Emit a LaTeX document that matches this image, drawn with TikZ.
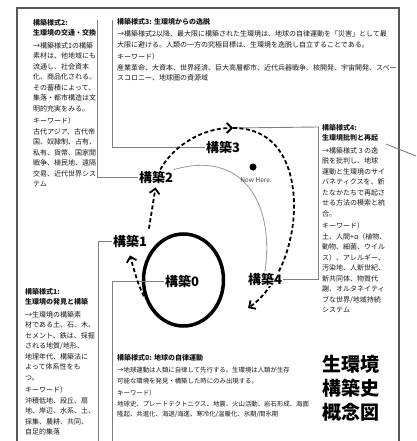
\documentclass[tikz,border=0pt]{standalone}
\usepackage{fontspec}
\setmainfont{Noto Sans CJK JP}
\usetikzlibrary{arrows.meta,shapes.geometric}
\begin{document}
\begin{tikzpicture}[x=1pt,y=-1pt,
  txt/.style={anchor=north west, inner sep=0pt, align=left, font=\fontsize{7}{10.5}\selectfont, text=black!90},
  lbl/.style={font=\fontsize{13}{13}\selectfont\bfseries, fill=white, inner sep=1pt},
  conn/.style={draw=black!50, line width=0.9pt},
  darr/.style={line width=1.8pt, dash pattern=on 4pt off 2.5pt, -{Straight Barb[length=5pt,width=10pt]}},
  titlef/.style={font=\fontsize{19}{24}\selectfont\bfseries, align=center, inner sep=0pt}
]
\useasboundingbox (0,0) rectangle (416,441);
\fill[white] (0,0) rectangle (416,441);
% frame
\draw[black!65, line width=2pt] (17,446) -- (17,8) -- (399,8) -- (399,446);

% text blocks
\node[txt] (box2) at (33,19) {{\bfseries 構築様式2:}\\{\bfseries 生環境の交通・交換}\\[2pt]
→構築様式1の構築\\素材は、他地域にも\\流通し、社会資本\\化、商品化される。\\その蓄積によって、\\集落・都市構造は文\\明的充実をみる。\\[2pt]
キーワード）\\古代アジア、古代帝\\国、奴隷制、占有、\\私有、貨幣、国家間\\戦争、植民地、遠隔\\交易、近代世界シス\\テム};

\node[txt] (box3) at (117,18) {{\bfseries 構築様式3: 生環境からの逸脱}\\[2pt]
→構築様式2以降、最大限に構築された生環境は、地球の自律運動を「災害」として最\\大限に避ける。人類の一方の究極目標は、生環境を逸脱し自立することである。\\[2pt]
キーワード）\\産業革命、大資本、世界経済、巨大高層都市、近代兵器戦争、核開発、宇宙開発、スペー\\スコロニー、地球圏の資源域};

\node[txt] (box4) at (322,124) {{\bfseries 構築様式4:}\\{\bfseries 生環境批判と再起}\\[2pt]
→構築様式 3 の逸\\脱を批判し、地球\\運動と生環境のサイ\\バネティクスを、新\\たなかたちで再起さ\\せる方法の模索と統\\合。\\[2pt]
キーワード）\\土、人間+α（植物、\\動物、細菌、ウイル\\ス）、アレルギー、\\汚染地、人新世紀、\\新共同体、物質代\\謝、オルタネイティ\\ブな世界/地域持続\\システム};

\node[txt] (box1) at (25,288) {{\bfseries 構築様式1:}\\{\bfseries 生環境の発見と構築}\\[2pt]
→生環境の構築素\\材である土、石、木、\\セメント、鉄は、採掘\\される地質/地形、\\地理年代、構築法に\\よって体系性をも\\つ。\\[2pt]
キーワード）\\沖積低地、段丘、扇\\地、岸辺、水系、土、\\採集、農耕、共同、\\自足的集落};

\node[txt, font=\fontsize{6.4}{10.5}\selectfont] (box0) at (117,354) {{\fontsize{7}{10.5}\selectfont\bfseries 構築様式0: 地球の自律運動}\\[2pt]
→地球運動は人類に自律して先行する。生環境は人類が生存\\可能な環境を発見・構築した時にのみ出現する。\\[2pt]
キーワード）\\地球史、プレートテクトニクス、地震、火山活動、岩石形成、海面\\隆起、共進化、海退/海進、寒冷化/温暖化、氷期/間氷期};

\node[titlef] (title) at (351,388) {生環境\\構築史\\概念図};

% circle
\node[ellipse, draw, line width=3.5pt, minimum width=80pt, minimum height=92pt, inner sep=0pt] (c0) at (183.5,280) {};

% connector brackets
\coordinate (b2top) at (97,20);
\coordinate (b3top) at (112,20);
\coordinate (b1bot) at (98,446);
\coordinate (b0bot) at (112,446);
\coordinate (b4top) at (318,127);
\coordinate (t3) at (233,128);
\coordinate (t4) at (248,308);
\coordinate (o1) at (386,144);
\coordinate (o2) at (416,156);

% labels
\node[lbl] (k0) at (182,281) {構築0};
\node[lbl] (k1) at (130,241) {構築1};
\node[lbl] (k2) at (156,177) {構築2};
\node[lbl] (k3) at (223,147) {構築3};

\draw[conn] (k2.west) -| (b2top);
\draw[conn] (k3.west) -| (b3top);
\draw[conn] (k1.west) -| (b1bot);
\draw[conn] (k0.west) -| (b0bot);
\draw[conn] (t3) -- (b4top);
\draw[conn] (o1) -- (o2);

% gray arc
\draw[black!40, line width=0.8pt] (k2.north east) .. controls (240,150) and (275,200) .. (265,271);

% dashed arrows
\draw[darr, shorten <=2pt] (c0.205) .. controls (138,285) and (134,270) .. ([yshift=-7pt]k1.south);
\draw[darr, shorten <=5pt, shorten >=3pt] (k1.north east) -- (k2.south);
\draw[darr] (k2.60) .. controls (172,148) and (200,128) .. (t3);
\draw[darr] (t3) .. controls (295,128) and (300,200) .. (290,240) .. controls (283,272) and (265,297) .. (t4);

\node[lbl] (k4) at (265,279) {構築4};
\draw[conn] (k4.east) -| (b4top);

\node[circle, fill=black, inner sep=0pt, minimum size=7pt] (dot) at (253,167) {};
\node[font=\fontsize{6.5}{6.5}\selectfont, text=black!75, inner sep=0pt] (nh) at (256,180) {Now Here.};
\end{tikzpicture}
\end{document}
